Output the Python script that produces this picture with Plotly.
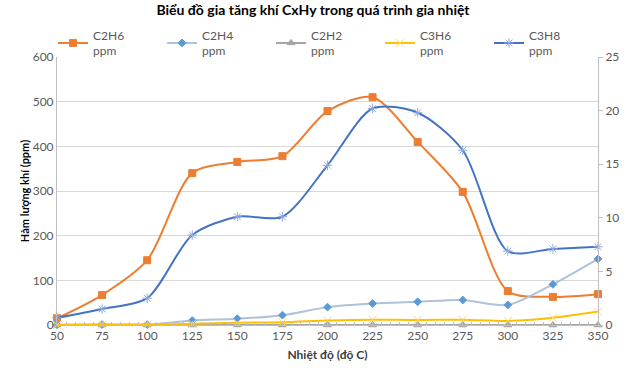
import plotly.graph_objects as go

temps = [50, 75, 100, 125, 150, 175, 200, 225, 250, 275, 300, 325, 350]
c2h6 = [15, 67, 145, 340, 365, 378, 479, 510, 410, 298, 76, 63, 69]
c2h4 = [0.5, 1, 1, 10, 14, 22, 40, 48, 52, 56, 45, 91, 148]
c2h2 = [0, 0, 0, 0, 0, 0, 0, 0, 0, 0, 0, 0, 0]
c3h6 = [0, 1, 1, 3, 5, 6, 10, 12, 11, 12, 9, 16, 30]
c3h8 = [0.67, 1.5, 2.5, 8.4, 10.1, 10.1, 14.9, 20.2, 19.8, 16.3, 6.9, 7.1, 7.3]

title = "Biểu đồ gia tăng khí CxHy trong quá trình gia nhiệt"
x_title = "Nhiệt độ (độ C)"
y_title = "Hàm lượng khí (ppm)"

FONT = "Lato"
fig = go.Figure()

def add(y, name, lc, mc, sym, size, yaxis="y"):
    fig.add_trace(go.Scatter(
        x=temps, y=y, name=name + "<br>ppm", mode="lines+markers",
        line=dict(color=lc, width=2, shape="spline", smoothing=0.8),
        marker=dict(color=mc, symbol=sym, size=size, line=dict(color=mc, width=1)),
        cliponaxis=False, yaxis=yaxis))

add(c2h6, "C2H6", "#ED7D31", "#ED7D31", "square", 7)
add(c2h4, "C2H4", "#AFC1DC", "#5B9BD5", "diamond", 6)
add(c2h2, "C2H2", "#A5A5A5", "#A5A5A5", "triangle-up", 7)
add(c3h6, "C3H6", "#FFC000", "#FFD966", "x-thin-open", 8)
add(c3h8, "C3H8", "#4472C4", "#8FAADC", "asterisk-open", 8, yaxis="y2")

fig.update_layout(
    width=626, height=374,
    margin=dict(l=57, r=28, t=57, b=49, autoexpand=False),
    paper_bgcolor="white", plot_bgcolor="white",
    font=dict(family=FONT, size=12, color="#595959"),
    title=dict(text="<b>" + title + "</b>", x=0.5, xanchor="center", y=0.985, yanchor="top",
               font=dict(family=FONT, size=14, color="#000000")),
    showlegend=True,
    legend=dict(orientation="h", xref="container", x=0.52, xanchor="center",
                y=1.135, yanchor="top",
                entrywidth=64, entrywidthmode="pixels",
                font=dict(family=FONT, size=12, color="#595959"),
                bgcolor="rgba(0,0,0,0)", itemwidth=30, tracegroupgap=0),
    xaxis=dict(range=[50, 350], tickmode="array", tickvals=temps,
               showgrid=False, showline=True, linecolor="#BFBFBF", linewidth=1,
               ticks="inside", ticklen=4, tickcolor="#BFBFBF",
               minor=dict(ticks="inside", ticklen=3, tickcolor="#BFBFBF", dtick=5),
               zeroline=False,
               title=dict(text="<b>" + x_title + "</b>", font=dict(family=FONT, size=12, color="#404040"), standoff=8)),
    yaxis=dict(range=[0, 600], dtick=100, showgrid=True, gridcolor="#D9D9D9",
               showline=True, linecolor="#BFBFBF", zeroline=False, ticks="",
               title=dict(text="<b>" + y_title + "</b>", font=dict(family=FONT, size=11, color="#000000"), standoff=0)),
    yaxis2=dict(range=[0, 25], dtick=5, overlaying="y", side="right", showgrid=False,
                showline=True, linecolor="#BFBFBF", zeroline=False,
                ticks="outside", ticklen=4, tickcolor="#BFBFBF"),
)

fig.write_html("out.html", config={"displayModeBar": False},
               post_script="document.body.style.margin='0px';")
